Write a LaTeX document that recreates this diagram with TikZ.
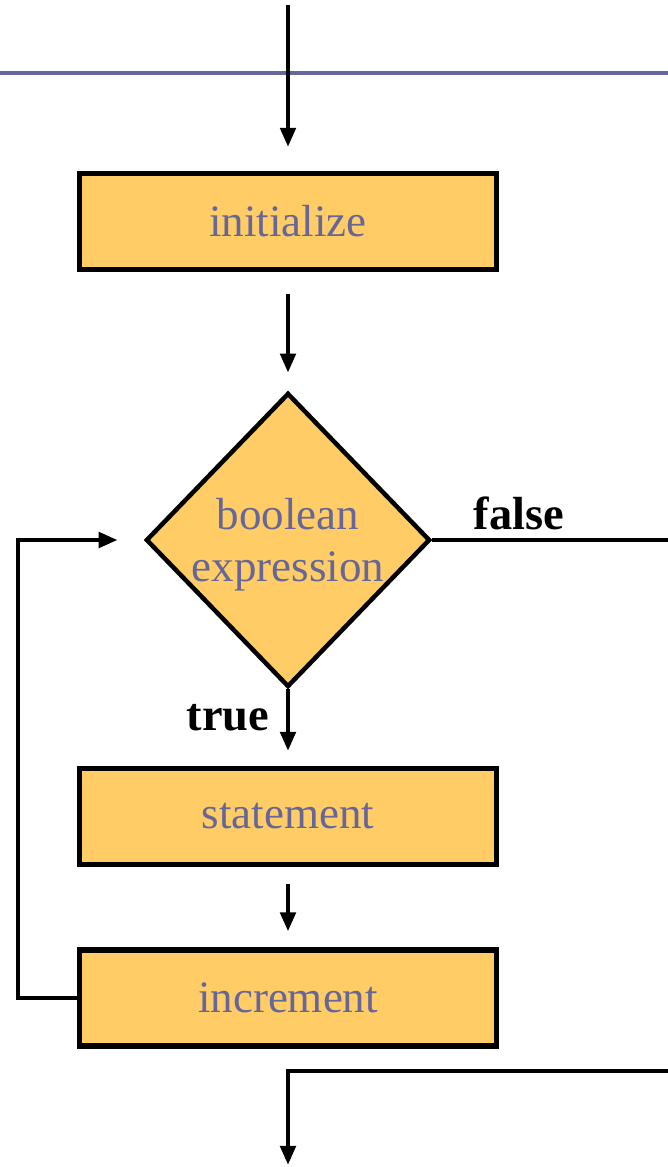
\documentclass[tikz,border=0pt]{standalone}
\usepackage{fontspec}
\setmainfont{Liberation Serif}
\usetikzlibrary{shapes.geometric,arrows.meta}

\definecolor{boxfill}{RGB}{255,204,102}
\definecolor{labelblue}{RGB}{102,102,153}

\begin{document}
\begin{tikzpicture}[x=0.025cm, y=-0.025cm,
    stepbox/.style={rectangle, draw=black, line width=3.6pt, fill=boxfill,
        minimum width=10.4cm, minimum height=2.4cm, inner sep=0pt,
        text=labelblue, font=\fontsize{32}{37}\selectfont},
    decision/.style={diamond, draw=black, line width=3.2pt, fill=boxfill,
        minimum width=7.1cm, minimum height=7.35cm, inner sep=-0.5cm,
        align=center, text=labelblue, font=\fontsize{32}{37}\selectfont},
    flow/.style={line width=3.2pt, -{Triangle[length=0.48cm, width=0.38cm]}},
    link/.style={line width=3.2pt},
    tag/.style={font=\fontsize{33}{38}\selectfont\bfseries}]

\useasboundingbox (0,0) rectangle (668,1167);

% Top rule
\draw[draw=labelblue, line width=2.2pt] (0,73) -- (668,73);

% Boxes
\node[stepbox] (init) at (288,221.5) {initialize};
\node[decision] (cond) at (288,540) {\\[-0.3cm]boolean\\expression};
\node[stepbox] (stmt) at (288,816.5) {statement};
\node[stepbox] (incr) at (288,998) {increment};

% Loose ends
\coordinate (start) at (288,5);
\coordinate (loop) at (18,998);
\coordinate (falseend) at (668,540);
\coordinate (exitstart) at (668,1071);
\coordinate (exitend) at (288,1165);

% Arrows
\draw[flow, shorten >=0.6cm] (start) -- (init.north);
\draw[flow, shorten <=0.55cm, shorten >=0.45cm] (init.south) -- (cond.north);
\draw[flow, shorten >=0.375cm] (cond.south) -- (stmt.north);
\draw[flow, shorten <=0.42cm, shorten >=0.4cm] (stmt.south) -- (incr.north);
\draw[flow, shorten >=0.65cm] (incr.west) -- (loop) |- (cond.west);
\draw[link] (cond.east) -- (falseend);
\draw[flow] (exitstart) -| (exitend);

% Labels
\node[tag] (falselbl) at (519,513) {false};
\node[tag, anchor=east] (truelbl) at (274,718) {true};

\end{tikzpicture}
\end{document}
